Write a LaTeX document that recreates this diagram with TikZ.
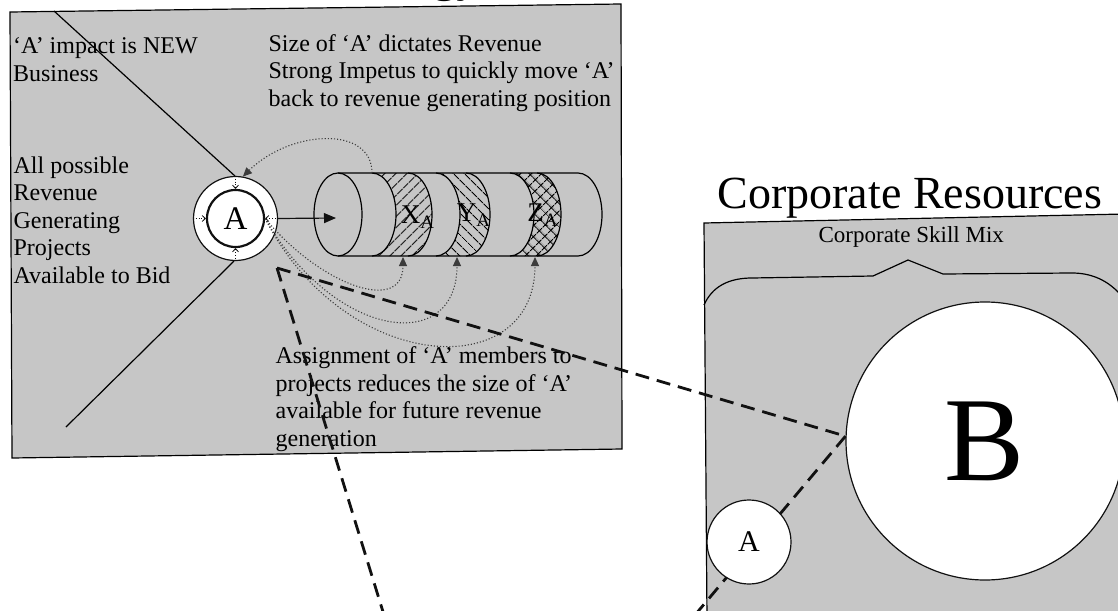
\documentclass[tikz,border=0pt]{standalone}
\usepackage{fontspec}
\setmainfont{Liberation Serif}
\usetikzlibrary{arrows.meta,patterns.meta,positioning}
\definecolor{Screen}{HTML}{C6C6C6}
\definecolor{Ink}{HTML}{111111}
\definecolor{Faint}{HTML}{3C3C3C}

\begin{document}
\begin{tikzpicture}[x=0.5pt,y=-0.5pt,line width=0.6pt,
  note/.style={anchor=north west,inner sep=0pt,align=left,font=\fontsize{12}{13.75}\selectfont},
  disc/.style={circle,draw=Ink,fill=white,inner sep=0pt},
  link/.style={draw=Ink,line width=1.4pt,dash pattern=on 7pt off 4pt},
  feed/.style={draw=Faint,line width=0.55pt,densely dotted,-{Triangle[length=4.5pt,width=4pt]}},
  tick/.style={draw=Ink,line width=0.4pt,densely dotted,-{Straight Barb[length=1.6pt,width=3pt]}},
  tag/.style={inner sep=0pt,font=\fontsize{13.5}{14}\selectfont}]
\useasboundingbox (0,0) rectangle (1118,610);
\clip (0,0) rectangle (1118,610);
\fill[white] (0,0) rectangle (1118,610);
\node[anchor=base west,inner sep=0pt,font=\bfseries\fontsize{23}{26}\selectfont] (head) at (433,-8) {gy};
% left panel
\draw[fill=Screen] (10,12) -- (621,4) -- (622,449) -- (12,458) -- cycle;
\coordinate (fanTop) at (54,11);
\coordinate (fanLow) at (66,427);
\node[note] (impact) at (12.5,37) {‘A’ impact is NEW\\Business};
\node[note] (pool) at (13,156) {All possible\\Revenue\\Generating\\Projects\\Available to Bid};
\node[note] (size) at (268,34) {Size of ‘A’ dictates Revenue\\Strong Impetus to quickly move ‘A’\\back to revenue generating position};
\node[note] (assign) at (275,346) {Assignment of ‘A’ members to\\projects reduces the size of ‘A’\\available for future revenue\\generation};
% project pipe
\path[pattern={Lines[angle=45,distance=4pt,line width=0.5pt]}] (372,173) -- (408,173) arc[start angle=-90,end angle=90,x radius=24,y radius=41.5] -- (372,256) arc[start angle=90,end angle=-90,x radius=24,y radius=41.5] -- cycle;
\path[pattern={Lines[angle=-45,distance=4pt,line width=0.5pt]}] (436,173) -- (466,173) arc[start angle=-90,end angle=90,x radius=24,y radius=41.5] -- (436,256) arc[start angle=90,end angle=-90,x radius=24,y radius=41.5] -- cycle;
\path[pattern={Hatch[angle=45,distance=4pt,line width=0.5pt]}] (510,173) -- (537,173) arc[start angle=-90,end angle=90,x radius=24,y radius=41.5] -- (510,256) arc[start angle=90,end angle=-90,x radius=24,y radius=41.5] -- cycle;
\draw (338,173) -- (578,173) arc[start angle=-90,end angle=90,x radius=24,y radius=41.5] -- (338,256);
\draw (338,214.5) ellipse[x radius=24,y radius=41.5];
\foreach \c in {372,408,436,466,510,537}
  \draw (\c,173) arc[start angle=-90,end angle=90,x radius=24,y radius=41.5];
\node[tag] (xa) at (418,217) {X\textsubscript{A}};
\node[tag] (ya) at (474,215) {Y\textsubscript{A}};
\node[tag] (za) at (543,215) {Z\textsubscript{A}};
\coordinate (cylfront) at (336,218);
\coordinate (xTop) at (372,173);
\coordinate (xFoot) at (403,257);
\coordinate (yFoot) at (457,257);
\coordinate (zFoot) at (535,257);
% pool circle
\draw (fanTop) -- (235,176);
\node[disc,minimum size=42pt] (Aout) at (235.5,218.5) {};
\node[disc,line width=1.1pt,minimum size=28.5pt,font=\fontsize{16.5}{18}\selectfont] (Ain) at (Aout) {A};
\draw (Aout.-92) -- (fanLow);
\foreach \s in {north,south,east,west}
  \draw[tick] (Aout.\s) -- (Ain.\s);
\draw[Ink,-{Triangle[length=6pt,width=5pt]}] (Aout.east) -- (cylfront);
\draw[feed] (xTop) .. controls (372,125) and (290,130) .. (Aout.80);
\draw[feed] (Ain.east) .. controls (320,285) and (403,315) .. (xFoot);
\draw[feed] (Ain.east) .. controls (335,340) and (457,355) .. (yFoot);
\draw[feed] (Ain.east) .. controls (345,375) and (535,385) .. (zFoot);
% corporate resources
\draw[fill=Screen] (704,223) -- (1125,214) -- (1125,620) -- (707,620) -- cycle;
\node[anchor=base west,inner sep=0pt,font=\fontsize{23}{26}\selectfont] (title) at (717,208) {Corporate Resources};
\node[anchor=base west,inner sep=0pt,font=\fontsize{11.5}{13}\selectfont] (mix) at (818,242) {Corporate Skill Mix};
\draw (704,305) .. controls (712,287) and (728,278) .. (752,278) -- (873,276) -- (908,260) -- (943,274) -- (1072,273) .. controls (1095,273) and (1112,283) .. (1125,300);
\node[disc,minimum size=139pt,font=\fontsize{60}{60}\selectfont] (B) at (985,441) {B};
\coordinate (P) at (277,268);
\coordinate (Pend) at (384,615);
\coordinate (Qend) at (695,615);
\draw[link] (P) -- (B.178);
\draw[link] (P) -- (Pend);
\draw[link] (B.178) -- (Qend);
\node[disc,minimum size=42pt,font=\fontsize{15}{16}\selectfont] (A2) at (749,542) {A};
\end{tikzpicture}
\end{document}
